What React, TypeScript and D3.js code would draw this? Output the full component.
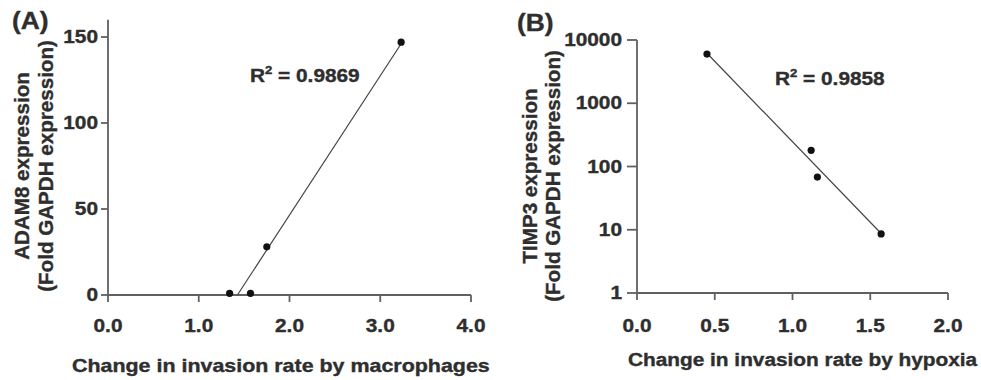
import * as d3 from 'd3'

// Panel A — macrophages vs ADAM8
const A_X = [1.34, 1.57, 1.75, 3.23]
const A_Y = [1, 1, 28, 147]
const A_XTICKS = [0, 1, 2, 3, 4]
const A_YTICKS = [0, 50, 100, 150]

// Panel B — hypoxia vs TIMP3 (log y)
const B_X = [0.45, 1.12, 1.16, 1.57]
const B_Y = [6000, 180, 68, 8.6]
const B_XTICKS = [0, 0.5, 1, 1.5, 2]
const B_YTICKS = [1, 10, 100, 1000, 10000]

const FONT = '"Liberation Sans", Arial, Helvetica, sans-serif'
const INK = '#2e2e2e'
const AXIS = '#606060'
const SX = 1.19 // the horizontal labels in the figure are a bit stretched
const FS = 17.5

function fit(xs: number[], ys: number[]) {
  const mx = d3.mean(xs) ?? 0
  const my = d3.mean(ys) ?? 0
  const sxy = d3.sum(xs, (x, i) => (x - mx) * (ys[i] - my))
  const sxx = d3.sum(xs, x => (x - mx) * (x - mx))
  const slope = sxy / sxx
  return { slope, intercept: my - slope * mx }
}

function Label({ x, y, anchor = 'middle', size = FS, sx = SX, children }: any) {
  return (
    <text
      transform={`translate(${x},${y}) scale(${sx},1)`}
      textAnchor={anchor}
      fontSize={size}
      fontWeight="bold"
      fill={INK}
      stroke={INK}
      strokeWidth={0.35}
    >
      {children}
    </text>
  )
}

function YTitle({ x1, x2, y, l1, l2 }: any) {
  return (
    <g fontSize={20.6} fontWeight="bold" fill={INK} stroke={INK} strokeWidth={0.35} textAnchor="middle">
      <text transform={`translate(${x1},${y}) rotate(-90)`}>{l1}</text>
      <text transform={`translate(${x2},${y}) rotate(-90)`}>{l2}</text>
    </g>
  )
}

function PanelA() {
  const x = d3.scaleLinear().domain([0, 4]).range([108, 471])
  const y = d3.scaleLinear().domain([0, 150]).range([295, 37])
  const { slope, intercept } = fit(A_X, A_Y)
  const x0 = -intercept / slope
  const x1 = d3.max(A_X) ?? 0
  const line = d3.line<number>().x(d => x(d)).y(d => y(slope * d + intercept))

  return (
    <g>
      <Label x={12} y={29} anchor="start" size={24} sx={1.1}>(A)</Label>
      <line x1={x(0)} x2={x(4)} y1={y(0)} y2={y(0)} stroke={AXIS} strokeWidth={1.8} />
      <line x1={x(0)} x2={x(0)} y1={y(0)} y2={y(160)} stroke={AXIS} strokeWidth={1.8} />
      {A_XTICKS.map(t => (
        <g key={t}>
          <line x1={x(t)} x2={x(t)} y1={y(0)} y2={y(0) + 7} stroke={AXIS} strokeWidth={1.8} />
          <Label x={x(t)} y={332}>{d3.format('.1f')(t)}</Label>
        </g>
      ))}
      {A_YTICKS.map(t => (
        <g key={t}>
          <line x1={x(0) - 7} x2={x(0)} y1={y(t)} y2={y(t)} stroke={AXIS} strokeWidth={1.8} />
          <Label x={98} y={y(t) + 6} anchor="end">{t}</Label>
        </g>
      ))}
      <path d={line([x0, x1]) ?? ''} fill="none" stroke="#444" strokeWidth={1.2} />
      {A_X.map((d, i) => (
        <circle key={i} cx={x(d)} cy={y(A_Y[i])} r={3.6} fill="#111" />
      ))}
      <Label x={250} y={82} anchor="start">
        R<tspan fontSize={11} dy={-8}>2</tspan><tspan dy={8}> = 0.9869</tspan>
      </Label>
      <Label x={72} y={372} anchor="start" sx={1.225}>Change in invasion rate by macrophages</Label>
      <YTitle x1={29} x2={53} y={166} l1="ADAM8 expression" l2="(Fold GAPDH expression)" />
    </g>
  )
}

function PanelB() {
  const x = d3.scaleLinear().domain([0, 2]).range([637, 948])
  const y = d3.scaleLog().domain([1, 10000]).range([293, 40])
  const { slope, intercept } = fit(B_X, B_Y.map(v => Math.log10(v)))
  const xs = d3.extent(B_X) as [number, number]
  const line = d3.line<number>().x(d => x(d)).y(d => y(Math.pow(10, slope * d + intercept)))

  return (
    <g>
      <Label x={517} y={31} anchor="start" size={24} sx={1.1}>(B)</Label>
      <line x1={x(0)} x2={x(2)} y1={y(1)} y2={y(1)} stroke={AXIS} strokeWidth={1.8} />
      <line x1={x(0)} x2={x(0)} y1={y(1)} y2={y(10000)} stroke={AXIS} strokeWidth={1.8} />
      {B_XTICKS.map(t => (
        <g key={t}>
          <line x1={x(t)} x2={x(t)} y1={y(1)} y2={y(1) + 7} stroke={AXIS} strokeWidth={1.8} />
          <Label x={x(t)} y={332}>{d3.format('.1f')(t)}</Label>
        </g>
      ))}
      {B_YTICKS.map(t => (
        <g key={t}>
          <line x1={x(0) - 10} x2={x(0)} y1={y(t)} y2={y(t)} stroke={AXIS} strokeWidth={1.8} />
          <Label x={622} y={y(t) + 6} anchor="end">{t}</Label>
        </g>
      ))}
      <path d={line(xs) ?? ''} fill="none" stroke="#444" strokeWidth={1.2} />
      {B_X.map((d, i) => (
        <circle key={i} cx={x(d)} cy={y(B_Y[i])} r={3.6} fill="#111" />
      ))}
      <Label x={775} y={85} anchor="start">
        R<tspan fontSize={11} dy={-8}>2</tspan><tspan dy={8}> = 0.9858</tspan>
      </Label>
      <Label x={628} y={366} anchor="start">Change in invasion rate by hypoxia</Label>
      <YTitle x1={537} x2={560} y={176} l1="TIMP3 expression" l2="(Fold GAPDH expression)" />
    </g>
  )
}

export default function App() {
  return (
    <svg
      width={981}
      height={380}
      style={{ position: 'absolute', left: 0, top: 0, background: '#fff' }}
      fontFamily={FONT}
    >
      <PanelA />
      <PanelB />
    </svg>
  )
}
